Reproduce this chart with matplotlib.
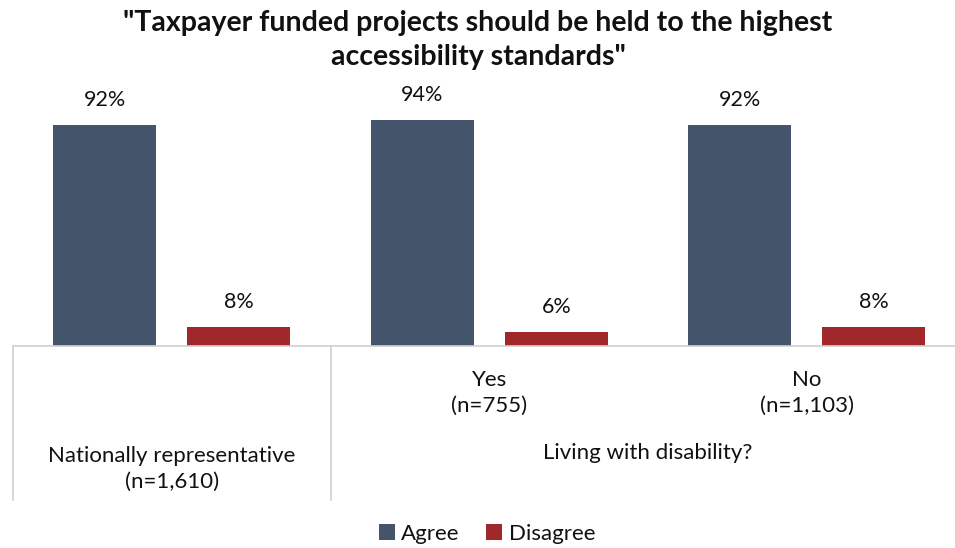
import matplotlib
matplotlib.use("Agg")
import matplotlib.pyplot as plt
import numpy as np

plt.rcParams['font.family'] = ['Lato', 'DejaVu Sans']

title = '"Taxpayer funded projects should be held to the highest\naccessibility standards"'
groups = ["National", "Yes", "No"]
sub_labels = ["", "Yes\n(n=755)", "No\n(n=1,103)"]
agree = [92, 94, 92]
disagree = [8, 6, 8]
series_names = ["Agree", "Disagree"]

AGREE_C = "#44546a"
DISAGREE_C = "#a0282a"
TEXT_C = "#111111"
LINE_C = "#d0d0d0"
FS = 16

W, H = 955, 548
fig = plt.figure(figsize=(W / 100, H / 100), dpi=100)

# axes laid out in pixel terms: baseline at y=346, one category = 317.5 px
base_px, top_px, left_px = 346, 60, 13
unit = 317.5
ax = fig.add_axes([left_px / W, (H - base_px) / H, (W - left_px) / W, (base_px - top_px) / H])
ax_h = base_px - top_px
ax.set_xlim(-0.5, -0.5 + (W - left_px) / unit)
ax.set_ylim(0, ax_h / 2.4)

x = np.arange(len(groups))
off = 67 / unit
bw = 103 / unit
b1 = ax.bar(x - off, agree, bw, color=AGREE_C, label=series_names[0])
b2 = ax.bar(x + off, disagree, bw, color=DISAGREE_C, label=series_names[1])

for bars, vals in ((b1, agree), (b2, disagree)):
    for b, v in zip(bars, vals):
        ax.annotate(f"{v}%", (b.get_x() + b.get_width() / 2, v),
                    xytext=(0, 25), textcoords="offset pixels",
                    ha="center", va="center", fontsize=15.5, color=TEXT_C)

for s in ["top", "right", "left"]:
    ax.spines[s].set_visible(False)
ax.spines["bottom"].set_color(LINE_C)
ax.spines["bottom"].set_linewidth(1.2)
ax.set_xticks([])
ax.set_yticks([])

# multi-level category axis: separators and labels
sep_len = 154 / ax_h
for xs in (-0.5, 0.5):
    ax.plot([xs, xs], [0, -sep_len], color=LINE_C, lw=1.2,
            transform=ax.get_xaxis_transform(), clip_on=False)

for xi, lab in zip(x, sub_labels):
    if lab:
        ax.annotate(lab, (xi, 0), xycoords=("data", "axes fraction"),
                    xytext=(0, -47), textcoords="offset pixels",
                    ha="center", va="center", fontsize=FS, color=TEXT_C,
                    linespacing=1.35)

ax.annotate("Nationally representative\n(n=1,610)", (0, 0), xycoords=("data", "axes fraction"),
            xytext=(0, -123), textcoords="offset pixels", ha="center", va="center",
            fontsize=FS, color=TEXT_C, linespacing=1.35)
ax.annotate("Living with disability?", (1.5, 0), xycoords=("data", "axes fraction"),
            xytext=(0, -107), textcoords="offset pixels", ha="center", va="center",
            fontsize=FS, color=TEXT_C)

fig.text(478 / W, 1 - 40 / H, title, ha="center", va="center", fontsize=20.5,
         fontweight="bold", color=TEXT_C, linespacing=1.38)

fig.legend(handles=[b1, b2], labels=series_names, loc="center",
           bbox_to_anchor=(487 / W, 1 - 534 / H), ncol=2, frameon=False,
           fontsize=FS, handlelength=0.7, handleheight=0.7,
           handletextpad=0.3, columnspacing=1.2, labelcolor=TEXT_C)

fig.savefig("out.png", dpi=100)
